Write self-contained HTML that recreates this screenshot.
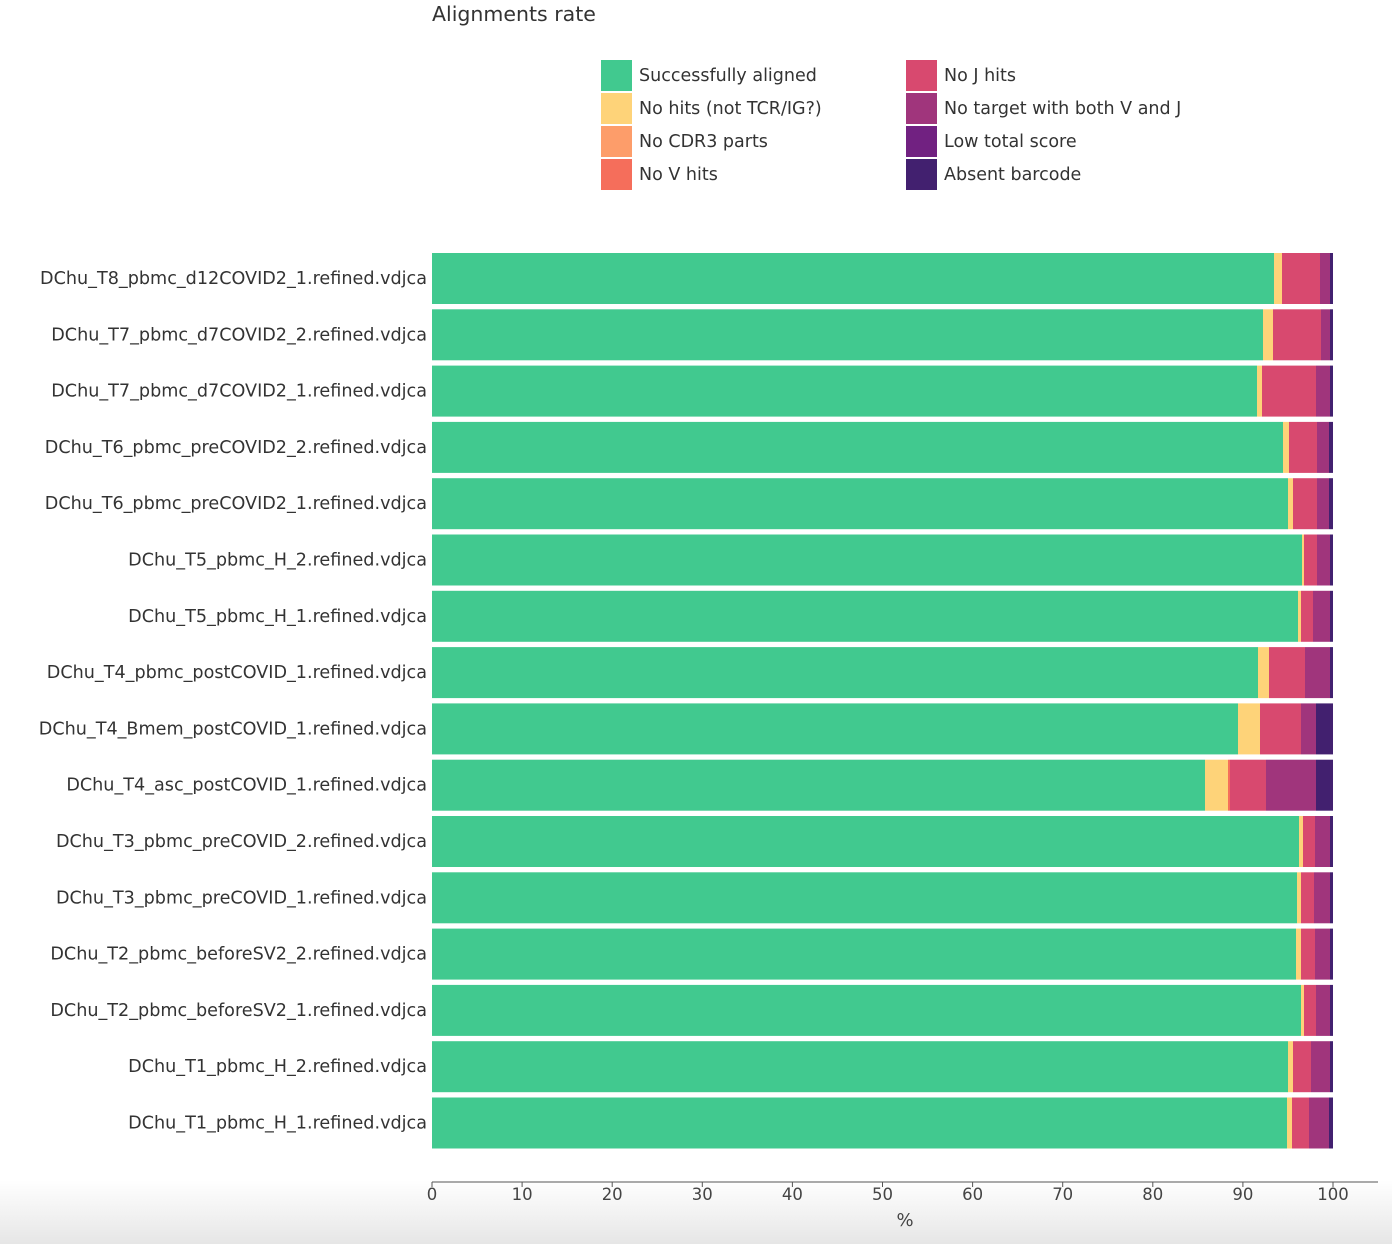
<!DOCTYPE html><html><head><style>body{margin:0;background:#fff}svg{display:block;font-family:"DejaVu Sans","Liberation Sans",sans-serif}</style></head><body>
<svg width="1392" height="1244" xmlns="http://www.w3.org/2000/svg">
<defs><linearGradient id="g" x1="0" y1="0" x2="0" y2="1"><stop offset="0" stop-color="#fff"/><stop offset="1" stop-color="#e6e6e6"/></linearGradient></defs>
<rect x="0" y="1180" width="1392" height="64" fill="url(#g)"/>
<text x="432" y="21" font-size="20.5" fill="#333">Alignments rate</text>
<g font-size="17.5" fill="#333">
<rect x="601" y="60" width="31" height="31" fill="#41c98f"/><text x="639" y="81">Successfully aligned</text>
<rect x="601" y="93" width="31" height="31" fill="#fed379"/><text x="639" y="114">No hits (not TCR/IG?)</text>
<rect x="601" y="126" width="31" height="31" fill="#fd9d6a"/><text x="639" y="147">No CDR3 parts</text>
<rect x="601" y="159" width="31" height="31" fill="#f56e5b"/><text x="639" y="180">No V hits</text>
<rect x="906" y="60" width="31" height="31" fill="#d8496f"/><text x="944" y="81">No J hits</text>
<rect x="906" y="93" width="31" height="31" fill="#a0357c"/><text x="944" y="114">No target with both V and J</text>
<rect x="906" y="126" width="31" height="31" fill="#712181"/><text x="944" y="147">Low total score</text>
<rect x="906" y="159" width="31" height="31" fill="#42206f"/><text x="944" y="180">Absent barcode</text>
</g>
<g id="bars"></g>
<line x1="432" y1="1182" x2="1378" y2="1182" stroke="#555" stroke-width="1"/>
<g id="ticks" font-size="16.5" fill="#444" text-anchor="middle"></g>
<text x="905" y="1226" font-size="18" fill="#444" text-anchor="middle">%</text>
</svg>
<script>
var names=["DChu_T8_pbmc_d12COVID2_1","DChu_T7_pbmc_d7COVID2_2","DChu_T7_pbmc_d7COVID2_1","DChu_T6_pbmc_preCOVID2_2","DChu_T6_pbmc_preCOVID2_1","DChu_T5_pbmc_H_2","DChu_T5_pbmc_H_1","DChu_T4_pbmc_postCOVID_1","DChu_T4_Bmem_postCOVID_1","DChu_T4_asc_postCOVID_1","DChu_T3_pbmc_preCOVID_2","DChu_T3_pbmc_preCOVID_1","DChu_T2_pbmc_beforeSV2_2","DChu_T2_pbmc_beforeSV2_1","DChu_T1_pbmc_H_2","DChu_T1_pbmc_H_1"];
var b=[[1274,1282,1282,1320,1330],[1263,1273,1273,1321,1330],[1257,1262,1262,1316,1330],[1283,1289,1289,1317,1329],[1288,1293,1293,1317,1329],[1302,1304,1304,1317,1330],[1298,1301,1301,1313,1330],[1258,1269,1269,1305,1330],[1238,1260,1260,1301,1316],[1205,1228,1230,1266,1316],[1299,1303,1303,1315,1330],[1297,1301,1301,1314,1330],[1296,1301,1301,1315,1330],[1301,1304,1304,1316,1330],[1288,1293,1293,1311,1330],[1287,1292,1292,1309,1329]];
var cols=["#41c98f","#fed379","#f56e5b","#d8496f","#a0357c","#42206f"];
var s="";
for(var i=0;i<16;i++){var y=253+i*56.3;var xs=[432].concat(b[i]).concat([1333]);
for(var k=0;k<6;k++){var w=xs[k+1]-xs[k];if(w>0)s+='<rect x="'+xs[k]+'" y="'+y+'" width="'+w+'" height="51" fill="'+cols[k]+'"/>';}
s+='<text x="427" y="'+(y+31)+'" font-size="17.6" fill="#333" text-anchor="end">'+names[i]+'.refined.vdjca</text>';}
document.getElementById("bars").innerHTML=s;
var t="";for(var v=0;v<=100;v+=10){var x=432+v*9.01;t+='<line x1="'+x+'" y1="1182" x2="'+x+'" y2="1187" stroke="#555"/><text x="'+x+'" y="1200">'+v+'</text>';}
document.getElementById("ticks").innerHTML=t;
</script>
</body></html>
